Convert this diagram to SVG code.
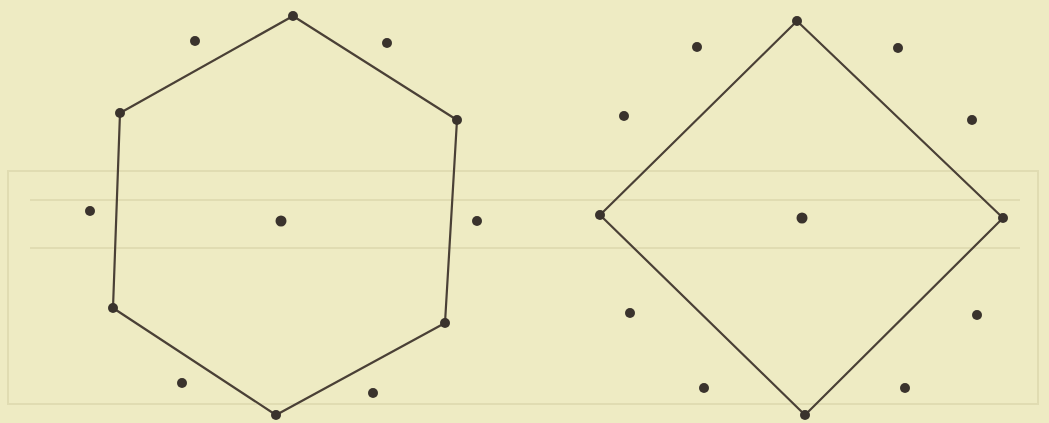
<svg xmlns="http://www.w3.org/2000/svg" width="1049" height="423" viewBox="0 0 1049 423">
<style>
.shape{fill:none;stroke:#4a4036;stroke-width:2.2;stroke-linejoin:round}
.dot{fill:#3a332d}
.ghost{fill:none;stroke:#e0dcb2;stroke-width:2}
</style>
<rect x="0" y="0" width="1049" height="423" fill="#eeebc3"/>
<g id="ghost-table">
<rect class="ghost" x="8" y="171" width="1030" height="233"/>
<line class="ghost" x1="30" y1="200" x2="1020" y2="200"/>
<line class="ghost" x1="30" y1="248" x2="1020" y2="248"/>
</g>
<g id="connectors">
<polygon class="shape" points="293,16 457,120 445,323 276,415 113,308 120,113"/>
<polygon class="shape" points="797,21 1003,218 805,415 600,215"/>
</g>
<g id="hexagon-dots">
<circle class="dot" cx="293" cy="16" r="5"/>
<circle class="dot" cx="120" cy="113" r="5"/>
<circle class="dot" cx="457" cy="120" r="5"/>
<circle class="dot" cx="113" cy="308" r="5"/>
<circle class="dot" cx="445" cy="323" r="5"/>
<circle class="dot" cx="276" cy="415" r="5"/>
<circle class="dot" cx="195" cy="41" r="5"/>
<circle class="dot" cx="387" cy="43" r="5"/>
<circle class="dot" cx="90" cy="211" r="5"/>
<circle class="dot" cx="281" cy="221" r="5.5"/>
<circle class="dot" cx="477" cy="221" r="5"/>
<circle class="dot" cx="182" cy="383" r="5"/>
<circle class="dot" cx="373" cy="393" r="5"/>
</g>
<g id="square-dots">
<circle class="dot" cx="797" cy="21" r="5"/>
<circle class="dot" cx="600" cy="215" r="5"/>
<circle class="dot" cx="1003" cy="218" r="5"/>
<circle class="dot" cx="805" cy="415" r="5"/>
<circle class="dot" cx="697" cy="47" r="5"/>
<circle class="dot" cx="898" cy="48" r="5"/>
<circle class="dot" cx="624" cy="116" r="5"/>
<circle class="dot" cx="972" cy="120" r="5"/>
<circle class="dot" cx="802" cy="218" r="5.5"/>
<circle class="dot" cx="630" cy="313" r="5"/>
<circle class="dot" cx="977" cy="315" r="5"/>
<circle class="dot" cx="704" cy="388" r="5"/>
<circle class="dot" cx="905" cy="388" r="5"/>
</g>
</svg>
